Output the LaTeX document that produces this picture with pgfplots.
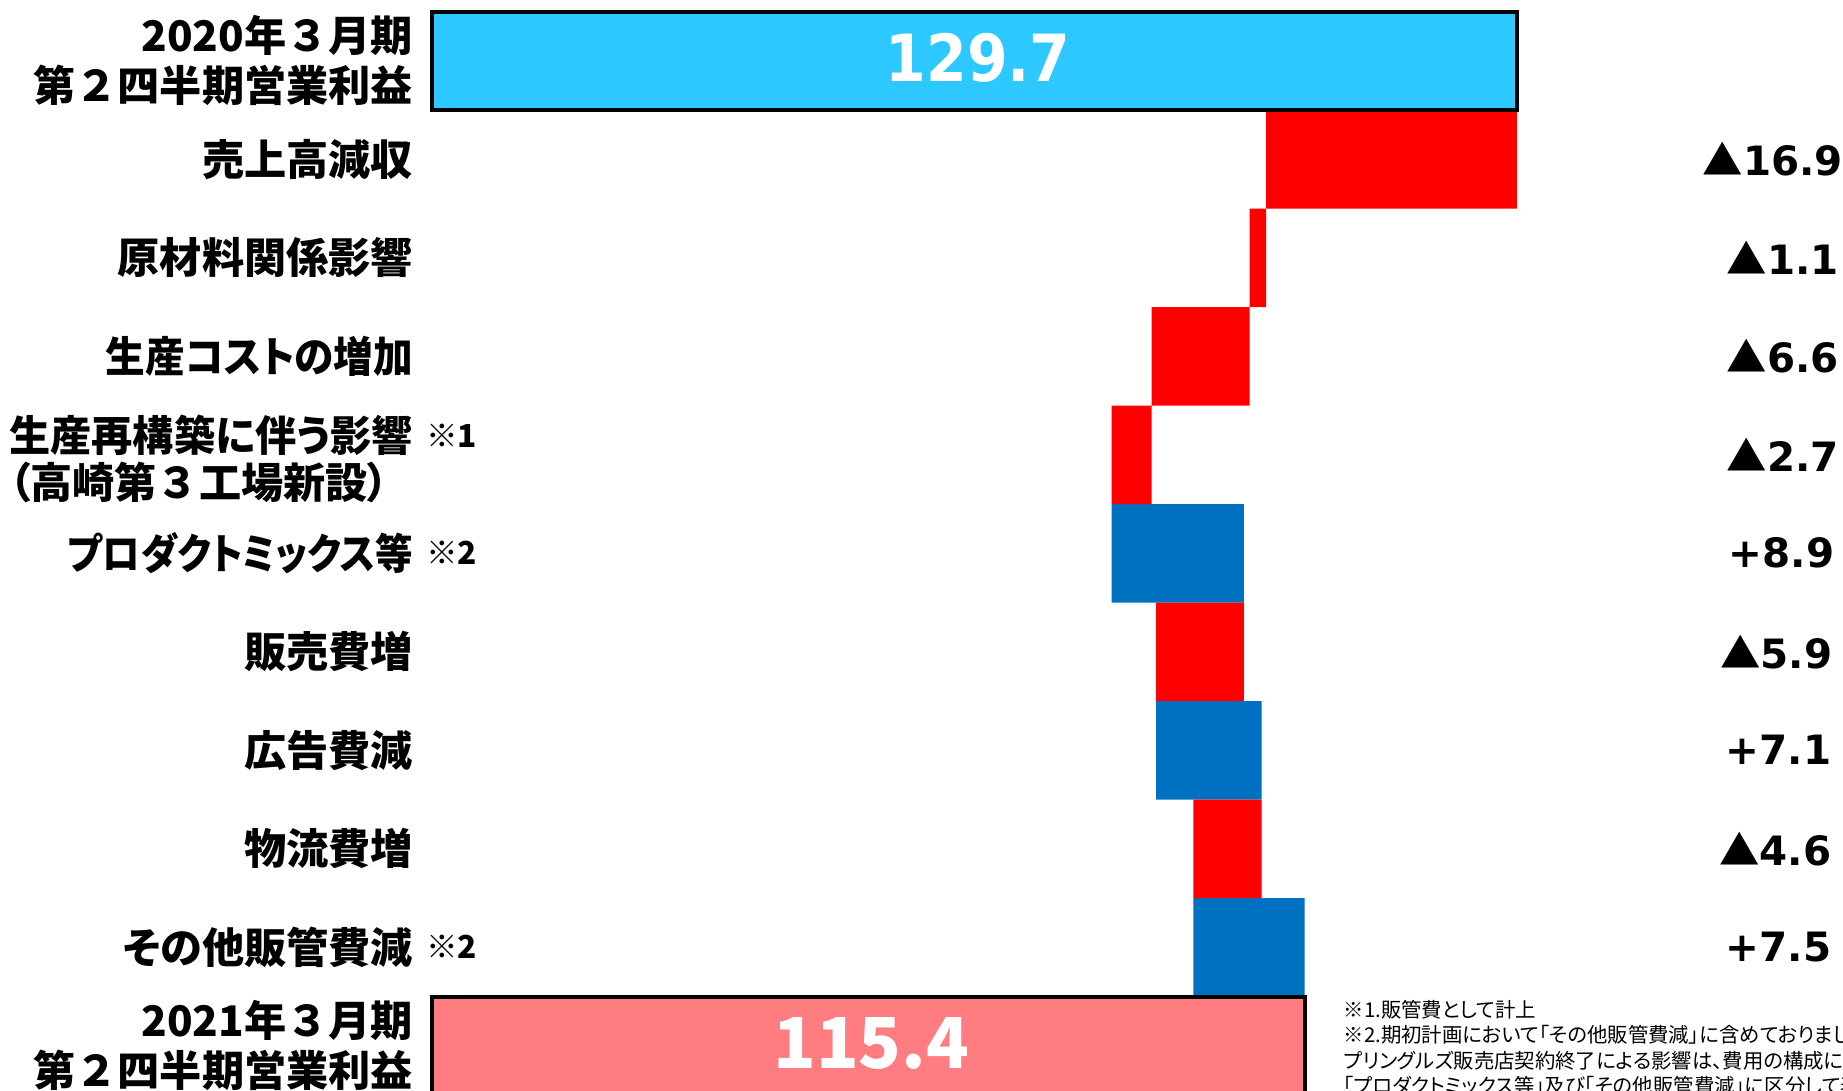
\documentclass[border=0pt]{standalone}
\usepackage{fontspec}
\usepackage{pgfplots}
\pgfplotsset{compat=1.18}
\usepackage{pgfplotstable}
\setmainfont{Noto Sans CJK JP}
\newfontfamily\jp{Noto Sans CJK JP}[RawFeature=+palt]
\newfontfamily\jpf{Noto Sans CJK JP}
\newfontfamily\dv{DejaVu Sans}
\definecolor{topc}{HTML}{2DC8FF}
\definecolor{botc}{HTML}{FF7C80}
\definecolor{redc}{HTML}{FF0000}
\definecolor{bluec}{HTML}{0070C0}
\newcommand\lab{\jp\bfseries\fontsize{12}{14.3}\selectfont}
\newcommand\labf{\jpf\bfseries\fontsize{12}{14.3}\selectfont}
\newcommand\labb{\jp\bfseries\fontsize{12}{13.4}\selectfont}
\newcommand\val{\dv\bfseries\fontsize{11.5}{13}\selectfont}
\newcommand\tri{{\jpf\bfseries ▲}}
\newcommand\nt{\jp\bfseries\fontsize{9}{10}\selectfont}
\newcommand\foot{\jp\fontsize{5.8}{7.25}\selectfont}

% waterfall changes: start of bar (lower end), decrease (red), increase (blue)
\pgfplotstableread{
row base red blue
1 112.8 16.9 0
2 111.7 1.1 0
3 105.1 6.6 0
4 102.4 2.7 0
5 102.4 0 8.9
6 105.4 5.9 0
7 105.4 0 7.1
8 107.9 4.6 0
9 107.9 0 7.5
}\changes

\pgfplotstableread{
x y
56.6 -0.5
129.7 -0.5
129.7 0.5
56.6 0.5
}\toptotal

\pgfplotstableread{
x y
56.6 9.5
115.4 9.5
115.4 10.5
56.6 10.5
}\bottotal

\pgfplotsset{wf/.style={scale only axis, width=141.1mm, height=108.35mm,
  at={(43.2mm,-0.5mm)}, anchor=south west,
  xmin=56.6, xmax=151.68, ymin=-0.5, ymax=10.5, y dir=reverse, hide axis}}

\begin{document}
\begin{tikzpicture}
\useasboundingbox (0,0) rectangle (184.3mm,109mm);
\clip (0,0) rectangle (184.3mm,109mm);

\begin{axis}[wf, xbar stacked, bar width=1]
\addplot[draw=none, fill=none] table[x=base, y=row] {\changes};
\addplot[draw=none, fill=redc] table[x=red, y=row] {\changes};
\addplot[draw=none, fill=bluec] table[x=blue, y=row] {\changes};
\end{axis}

\begin{axis}[wf, clip=false]
\addplot[fill=topc, draw=black, line width=0.4mm] table {\toptotal} -- cycle;
\addplot[fill=botc, draw=black, line width=0.4mm] table {\bottotal} -- cycle;

\node[text=white, inner sep=0, font=\dv\bfseries\fontsize{18.5}{20}\selectfont] at (axis cs:93.4,-0.03) {\scalebox{0.9}[1]{129.7}};
\node[text=white, inner sep=0, font=\jp\bfseries\fontsize{20}{22}\selectfont] at (axis cs:86.2,9.98) {115.4};

% category labels
\node[anchor=east, align=right, inner sep=0, font=\labf, xshift=-1.83mm] at (axis cs:56.6,0) {2020年３月期\\第２四半期営業利益};
\node[anchor=east, inner sep=0, font=\lab, xshift=-1.83mm] at (axis cs:56.6,1) {売上高減収};
\node[anchor=east, inner sep=0, font=\lab, xshift=-1.83mm] at (axis cs:56.6,2) {原材料関係影響};
\node[anchor=east, inner sep=0, font=\lab, xshift=-1.83mm] at (axis cs:56.6,3) {\scalebox{0.94}[1]{生産コストの増加}};
\node[anchor=east, align=left, inner sep=0, font=\labb, xshift=-1.83mm, yshift=-0.45mm] at (axis cs:56.6,4) {\scalebox{0.977}[1]{生産再構築に伴う影響}\\（高崎第{\jpf ３}工場新設）};
\node[anchor=east, inner sep=0, font=\lab, xshift=-1.83mm] at (axis cs:56.6,5) {\scalebox{0.89}[1]{プロダクトミックス等}};
\node[anchor=east, inner sep=0, font=\lab, xshift=-1.83mm] at (axis cs:56.6,6) {販売費増};
\node[anchor=east, inner sep=0, font=\lab, xshift=-1.83mm] at (axis cs:56.6,7) {広告費減};
\node[anchor=east, inner sep=0, font=\lab, xshift=-1.83mm] at (axis cs:56.6,8) {物流費増};
\node[anchor=east, inner sep=0, font=\lab, xshift=-1.83mm] at (axis cs:56.6,9) {その他販管費減};
\node[anchor=east, align=right, inner sep=0, font=\labf, xshift=-1.83mm] at (axis cs:56.6,10) {2021年３月期\\第２四半期営業利益};

\node[anchor=west, inner sep=0, font=\nt, xshift=-0.65mm] at (axis cs:56.6,3.81) {※1};
\node[anchor=west, inner sep=0, font=\nt, xshift=-0.65mm] at (axis cs:56.6,5) {※2};
\node[anchor=west, inner sep=0, font=\nt, xshift=-0.65mm] at (axis cs:56.6,9) {※2};

% change values
\node[anchor=east, inner sep=0, font=\val, xshift=0.05mm] at (axis cs:151.68,1) {\tri16.9};
\node[anchor=east, inner sep=0, font=\val, xshift=-0.35mm] at (axis cs:151.68,2) {\tri1.1};
\node[anchor=east, inner sep=0, font=\val, xshift=-0.35mm] at (axis cs:151.68,3) {\tri6.6};
\node[anchor=east, inner sep=0, font=\val, xshift=-0.35mm] at (axis cs:151.68,4) {\tri2.7};
\node[anchor=east, inner sep=0, font=\val, xshift=-0.8mm] at (axis cs:151.68,5) {+8.9};
\node[anchor=east, inner sep=0, font=\val, xshift=-1.0mm] at (axis cs:151.68,6) {\tri5.9};
\node[anchor=east, inner sep=0, font=\val, xshift=-1.1mm] at (axis cs:151.68,7) {+7.1};
\node[anchor=east, inner sep=0, font=\val, xshift=-1.1mm] at (axis cs:151.68,8) {\tri4.6};
\node[anchor=east, inner sep=0, font=\val, xshift=-1.1mm] at (axis cs:151.68,9) {+7.5};
\end{axis}

\node[anchor=north west, align=left, inner sep=0, font=\foot] at (134.3mm,9.07mm)
  {※1.販管費として計上\\
   ※2.期初計画において「その他販管費減」に含めておりました\\
   プリングルズ販売店契約終了による影響は、費用の構成に応\\
   「プロダクトミックス等」及び「その他販管費減」に区分して表示};
\end{tikzpicture}
\end{document}
